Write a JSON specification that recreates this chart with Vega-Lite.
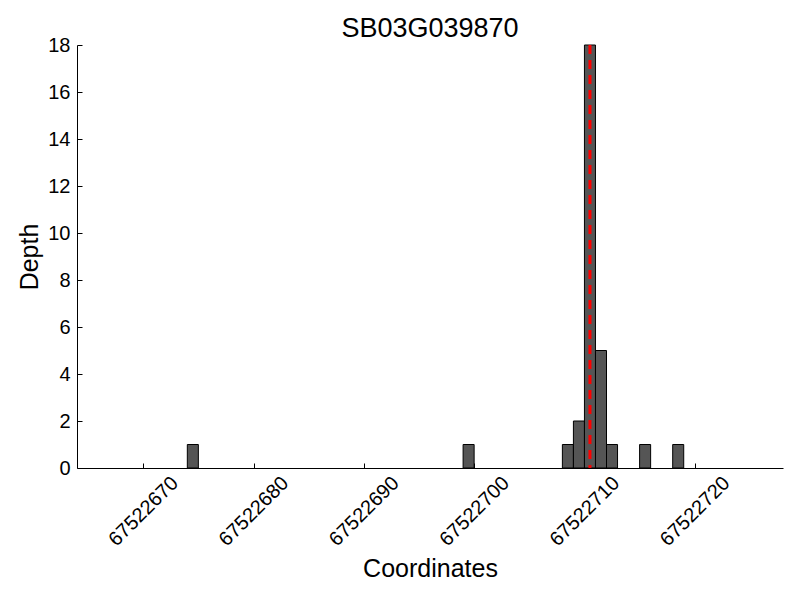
{
  "$schema": "https://vega.github.io/schema/vega-lite/v6.json",
  "width": 706,
  "height": 423,
  "autosize": {"type": "none"},
  "padding": {"left": 77, "top": 45, "right": 17, "bottom": 132},
  "background": "white",
  "config": {
    "font": "Liberation Sans",
    "view": {"stroke": null},
    "axis": {
      "domainColor": "black",
      "domainWidth": 1,
      "tickColor": "black",
      "grid": false,
      "labelColor": "black",
      "titleColor": "black",
      "labelFont": "Liberation Sans",
      "titleFont": "Liberation Sans",
      "labelFontSize": 20,
      "titleFontSize": 25,
      "titleFontWeight": "normal"
    }
  },
  "title": {
    "text": "SB03G039870",
    "fontSize": 27,
    "font": "Liberation Sans",
    "fontWeight": "normal",
    "color": "black",
    "offset": 0,
    "dy": 8,
    "frame": "group",
    "anchor": "middle"
  },
  "datasets": {
    "bins": [
      {"start": 67522674, "end": 67522675, "depth": 1},
      {"start": 67522699, "end": 67522700, "depth": 1},
      {"start": 67522708, "end": 67522709, "depth": 1},
      {"start": 67522709, "end": 67522710, "depth": 2},
      {"start": 67522710, "end": 67522711, "depth": 18},
      {"start": 67522711, "end": 67522712, "depth": 5},
      {"start": 67522712, "end": 67522713, "depth": 1},
      {"start": 67522715, "end": 67522716, "depth": 1},
      {"start": 67522718, "end": 67522719, "depth": 1}
    ],
    "marker": [{"pos": 67522710.5}]
  },
  "layer": [
    {
      "data": {"name": "bins"},
      "mark": {"type": "rect", "fill": "#555555", "stroke": "black", "strokeWidth": 1},
      "encoding": {
        "x": {
          "field": "start",
          "type": "quantitative",
          "scale": {"domain": [67522664, 67522728], "nice": false, "zero": false},
          "axis": {
            "title": "Coordinates",
            "values": [67522670, 67522680, 67522690, 67522700, 67522710, 67522720],
            "format": "d",
            "labelAngle": -45,
            "labelAlign": "center",
            "labelBaseline": "middle",
            "tickSize": -5,
            "labelPadding": 48,
            "titlePadding": 7
          }
        },
        "x2": {"field": "end"},
        "y": {
          "field": "depth",
          "type": "quantitative",
          "scale": {"domain": [0, 18], "nice": false},
          "axis": {
            "title": "Depth",
            "values": [0, 2, 4, 6, 8, 10, 12, 14, 16, 18],
            "tickSize": -5,
            "labelPadding": 12,
            "titlePadding": 5
          }
        },
        "y2": {"datum": 0}
      }
    },
    {
      "data": {"name": "marker"},
      "mark": {"type": "rule", "color": "#ff0000", "strokeWidth": 3, "strokeDash": [9, 6]},
      "encoding": {
        "x": {"field": "pos", "type": "quantitative"}
      }
    }
  ]
}
